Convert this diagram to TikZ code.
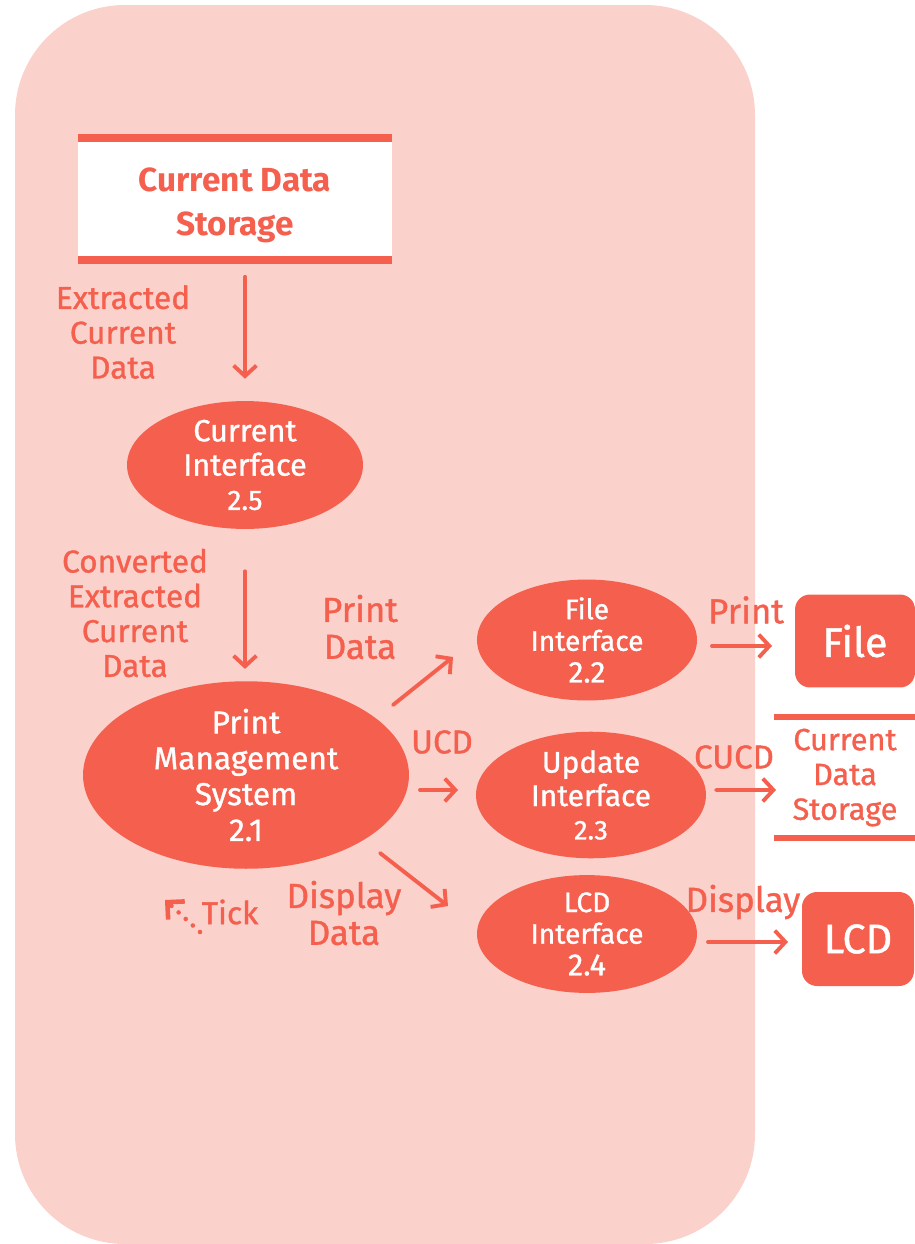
\documentclass[tikz,border=0pt]{standalone}
\usepackage{fontspec}
\setmainfont{Fira Sans}
\newfontfamily\medfont{Fira Sans}[FakeBold=1]
\usetikzlibrary{arrows.meta, shapes.geometric}

\definecolor{coral}{HTML}{F45F4E}
\definecolor{blush}{HTML}{FAD1CB}

\newcommand{\fs}[2]{\fontsize{#1}{#2}\selectfont}

\begin{document}
\begin{tikzpicture}[x=0.02cm, y=-0.02cm,
    >={Straight Barb[length=6pt, width=13pt]},
    flow/.style={->, coral, line width=2.2pt, line cap=round},
    lbl/.style={coral, align=center, inner sep=0pt, font=\medfont\fs{18}{19.8}},
    biglbl/.style={lbl, font=\medfont\fs{19.8}{21}},
    proc/.style={ellipse, fill=coral, text=white, align=center, inner sep=0pt},
    sink/.style={rounded corners=0.3cm, fill=coral, text=white, font=\medfont\fs{23.5}{26}},
    storebox/.style={align=center, inner sep=0pt, text=coral},
]

    % --- 1. Frame ---
    \useasboundingbox (0,0) rectangle (914,1244);
    \fill[blush, rounded corners=2.2cm] (15,5) rectangle (755,1244);

    % --- 2. Data stores ---
    \node[storebox, fill=white, minimum width=6.28cm, minimum height=2.42cm] (cds) at (235,199) {};
    \node[storebox, font=\bfseries\fs{19}{25}] (cdstext) at (235,205) {Current Data\\Storage};
    \draw[coral, line width=4.5pt] (cds.north west) -- (cds.north east);
    \draw[coral, line width=4.5pt] (cds.south west) -- (cds.south east);

    \node[storebox, minimum width=2.84cm, minimum height=2.42cm,
          font=\medfont\fs{17.5}{19.8}] (cds2) at (845,777.5) {Current\\Data\\Storage};
    \draw[coral, line width=3.4pt] (cds2.north west) -- (cds2.north east);
    \draw[coral, line width=3.4pt] (cds2.south west) -- (cds2.south east);

    % --- 3. Processes ---
    \node[proc, minimum width=4.72cm, minimum height=2.4cm, font=\medfont\fs{17.5}{19.5}] (ci) at (245,465)
        {Current\\Interface\\\fs{16}{18.5}2.5};
    \node[proc, minimum width=6.52cm, minimum height=3.64cm, font=\medfont\fs{18}{20.4}] (pms) at (246,775)
        {Print\\Management\\System\\2.1};
    \node[proc, minimum width=4.4cm, minimum height=2cm, font=\medfont\fs{16}{18}] (fi) at (587,640)
        {File\\Interface\\\fs{17}{18}2.2};
    \node[proc, minimum width=4.6cm, minimum height=2.28cm, font=\medfont\fs{17}{19}] (ui) at (591,795)
        {Update\\Interface\\\fs{15.5}{17}2.3};
    \node[proc, minimum width=4.4cm, minimum height=2.32cm, font=\medfont\fs{16}{18}] (li) at (587,934)
        {LCD\\Interface\\\fs{17.5}{18}2.4};

    % --- 4. Terminators ---
    \node[sink, minimum width=2.4cm, minimum height=1.86cm] (file) at (855,641) {File};
    \node[sink, minimum width=2.24cm, minimum height=1.88cm] (lcd) at (858,939) {LCD};

    % --- 5. Flows ---
    \draw[flow, shorten <=0.34cm, shorten >=0.44cm] (cds.south -| ci.north) -- (ci.north);
    \draw[flow, shorten <=0.84cm, shorten >=0.24cm] (ci.south) -- (ci.south |- pms.north);
    \draw[flow] ([shift={(147,-70)}]pms.center) -- ([shift={(-134,17)}]fi.center);
    \draw[flow] ([shift={(174,15)}]pms.center) -- ([shift={(-133,-5)}]ui.center);
    \draw[flow] ([shift={(134,78)}]pms.center) -- ([shift={(-139,-28)}]li.center);
    \draw[flow] ([shift={(125,6)}]fi.center) -- ([shift={(-83,5)}]file.center);
    \draw[flow] ([shift={(125,-5)}]ui.center) -- ([shift={(-69,12.5)}]cds2.center);
    \draw[flow] ([shift={(121,8)}]li.center) -- ([shift={(-70,3)}]lcd.center);

    % --- 6. Flow labels ---
    \node[lbl] (lecd) at (123,332) {Extracted\\Current\\Data};
    \node[lbl] (lcecd) at (135,613) {Converted\\Extracted\\Current\\Data};
    \node[biglbl] (lpd) at (360,627) {Print\\Data};
    \node[lbl, font=\medfont\fs{18.8}{20}] (lucd) at (442,742) {UCD};
    \node[biglbl] (ldd) at (344,913) {Display\\Data};
    \node[biglbl] (lprint) at (746,610) {Print};
    \node[lbl, font=\medfont\fs{18.8}{20}] (lcucd) at (734,757) {CUCD};
    \node[biglbl] (ldisp) at (743,902) {Display};

    % Tick (dotted, no source)
    \node[lbl] (tick) at (230,912) {Tick};
    \coordinate (tickend) at (165,900);
    \draw[->, coral, line width=2.6pt, line cap=round, dash pattern=on 0pt off 5.5pt,
          >={Straight Barb[length=7pt, width=14pt]}]
        ([shift={(-30,20)}]tick.center) -- (tickend);

\end{tikzpicture}
\end{document}
